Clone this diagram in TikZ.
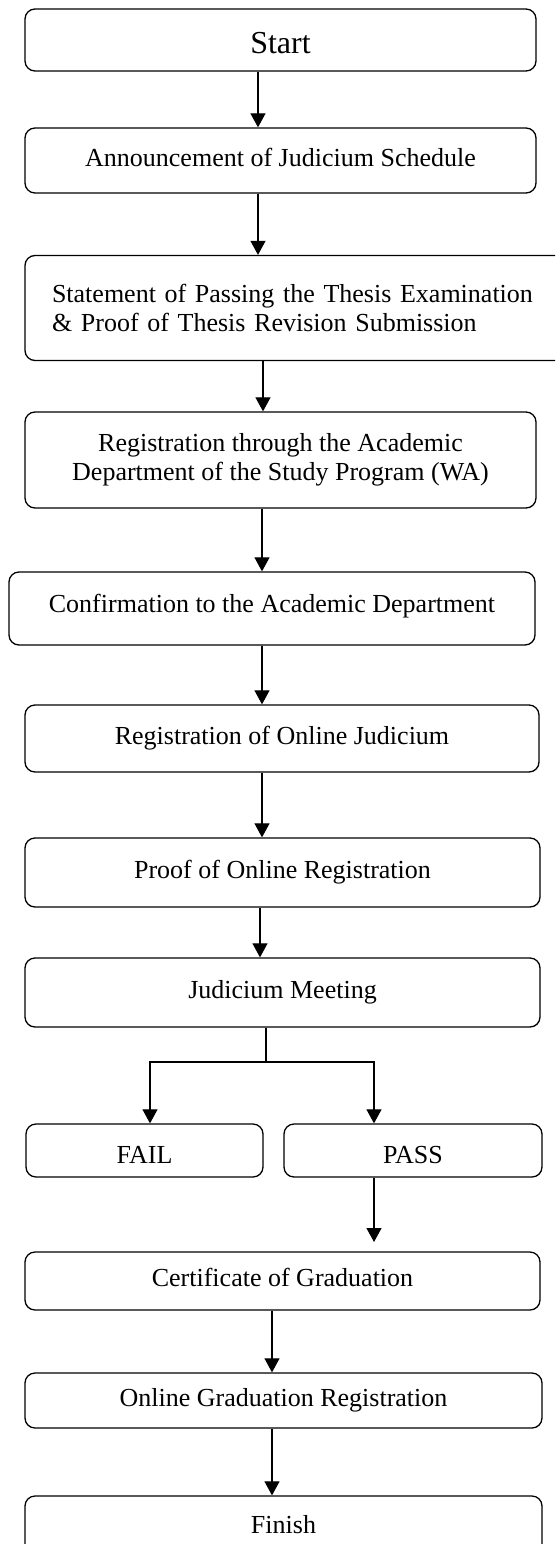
\documentclass[tikz,border=0pt]{standalone}
\usepackage{fontspec}
\setmainfont{Liberation Serif}
\usetikzlibrary{arrows.meta}
\begin{document}
\begin{tikzpicture}[x=1pt,y=-1pt,
  box/.style={draw, rounded corners=10pt, line width=1.3pt, inner sep=0pt,
    font=\fontsize{26}{29}\selectfont, align=center},
  one/.style={box, text height=17pt, text depth=5.5pt},
  low/.style={box, text height=25pt, text depth=0pt},
  conn/.style={line width=1.1pt},
  arr/.style={conn, -{Triangle[width=15pt,length=14pt]}}]
\useasboundingbox (0,0) rectangle (555,1544);
\clip (0,0) rectangle (555,1544);
\fill[white] (0,0) rectangle (555,1544);
% boxes
\node[box, minimum width=511pt, minimum height=62pt, font=\fontsize{32}{36}\selectfont, text height=27pt, text depth=0pt] (start) at (280.5,40) {Start};
\node[one, minimum width=511pt, minimum height=65pt] (ann) at (280.5,160.5) {Announcement of Judicium Schedule};
\node[box, minimum width=550pt, minimum height=105pt, align=left, inner xsep=27pt, text width=496pt] (stmt) at (300,308)
  {Statement of Passing the Thesis Examination\\ \& Proof of Thesis Revision Submission};
\node[box, minimum width=511pt, minimum height=96pt] (reg) at (280.5,460)
  {Registration through the Academic\\Department of the Study Program (WA)};
\node[box, text height=14pt, text depth=7pt, minimum width=526pt, minimum height=73pt] (conf) at (272,608.5) {Confirmation to the Academic Department};
\node[one, minimum width=514pt, minimum height=67pt] (regon) at (282,738.5) {Registration of Online Judicium};
\node[one, minimum width=515pt, minimum height=69pt] (proof) at (282.5,872.5) {Proof of Online Registration};
\node[one, minimum width=515pt, minimum height=69pt] (meet) at (282.5,992.5) {Judicium Meeting};
\node[low, minimum width=237pt, minimum height=53pt] (fail) at (144.5,1150.5) {FAIL};
\node[low, minimum width=258pt, minimum height=53pt] (pass) at (413,1150.5) {PASS};
\node[one, minimum width=515pt, minimum height=58pt] (cert) at (282.5,1281) {Certificate of Graduation};
\node[one, minimum width=517pt, minimum height=55pt] (ograd) at (283.5,1400.5) {Online Graduation Registration};
\node[one, minimum width=517pt, minimum height=64pt] (finish) at (283.5,1528) {Finish};
% helper coordinates
\coordinate (xa) at (258,0);
\coordinate (xb) at (263,0);
\coordinate (xc) at (262,0);
\coordinate (xd) at (260,0);
\coordinate (xl) at (150,0);
\coordinate (xr) at (374,0);
\coordinate (xe) at (272,0);
\coordinate (split) at (266,1062);
\coordinate (passend) at (374,1242);
% connectors
\draw[arr] (start.south -| xa) -- (ann.north -| xa);
\draw[arr] (ann.south -| xa) -- (stmt.north -| xa);
\draw[arr] (stmt.south -| xb) -- (reg.north -| xb);
\draw[arr] (reg.south -| xc) -- (conf.north -| xc);
\draw[arr] (conf.south -| xc) -- (regon.north -| xc);
\draw[arr] (regon.south -| xc) -- (proof.north -| xc);
\draw[arr] (proof.south -| xd) -- (meet.north -| xd);
\draw[conn] (meet.south -| split) -- (split);
\draw[arr] (split) -| (fail.north -| xl);
\draw[arr] (split) -| (pass.north -| xr);
\draw[arr] (pass.south -| xr) -- (passend);
\draw[arr] (cert.south -| xe) -- (ograd.north -| xe);
\draw[arr] (ograd.south -| xe) -- (finish.north -| xe);
\end{tikzpicture}
\end{document}
